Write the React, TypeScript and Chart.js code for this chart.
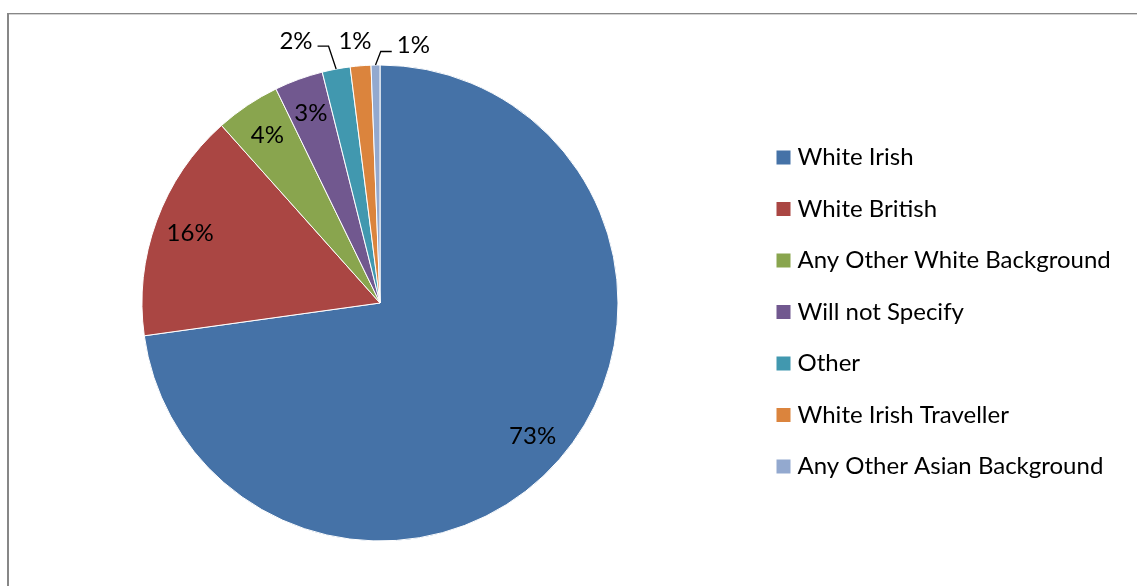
import React, { useEffect, useRef } from "react";
import { Chart, registerables } from "chart.js";

Chart.register(...registerables);

const categories = [
  "White Irish",
  "White British",
  "Any Other White Background",
  "Will not Specify",
  "Other",
  "White Irish Traveller",
  "Any Other Asian Background",
];
const values = [72.8, 15.6, 4.4, 3.3, 1.9, 1.4, 0.6];
const colors = ["#4572A7", "#AA4643", "#89A54E", "#71588F", "#4198AF", "#DB843D", "#93A9CF"];

const total = values.reduce((a, b) => a + b, 0);
const percentLabels = values.map((v) => Math.round((v / total) * 100) + "%");

const FONT = "24px Lato, 'Open Sans', sans-serif";

// label layout (not data): outside labels relative to pie center in radius units
const outsideLayout: Record<number, { ox: number; oy: number; leader: "right" | "left" | null }> = {
  4: { ox: -0.353, oy: -1.1, leader: "right" },
  5: { ox: -0.105, oy: -1.1, leader: null },
  6: { ox: 0.14, oy: -1.082, leader: "left" },
};

const framePlugin = {
  id: "frame",
  beforeDraw(chart: any) {
    const ctx = chart.ctx;
    ctx.save();
    ctx.fillStyle = "#ffffff";
    ctx.fillRect(0, 0, chart.width, chart.height);
    ctx.fillStyle = "#878787";
    ctx.fillRect(7, 13, 2, chart.height);
    ctx.fillRect(7, 13, chart.width, 1);
    ctx.fillStyle = "#d4d4d4";
    ctx.fillRect(9, 14, chart.width, 1);
    ctx.restore();
  },
};

const labelPlugin = {
  id: "pieLabels",
  afterDatasetsDraw(chart: any) {
    const ctx = chart.ctx;
    const meta = chart.getDatasetMeta(0);
    ctx.save();
    ctx.font = FONT;
    ctx.fillStyle = "#000000";
    ctx.textAlign = "center";
    ctx.textBaseline = "middle";
    meta.data.forEach((arc: any, i: number) => {
      const { x, y, startAngle, endAngle, outerRadius } = arc.getProps(
        ["x", "y", "startAngle", "endAngle", "outerRadius"],
        true
      );
      const mid = (startAngle + endAngle) / 2;
      const text = percentLabels[i];
      const lay = outsideLayout[i];
      if (!lay) {
        const r = outerRadius * 0.85;
        ctx.fillText(text, x + Math.cos(mid) * r, y + Math.sin(mid) * r);
        return;
      }
      const lx = x + lay.ox * outerRadius;
      const ly = y + lay.oy * outerRadius;
      ctx.fillText(text, lx, ly);
      if (lay.leader) {
        const w = ctx.measureText(text).width;
        const ax = x + Math.cos(mid) * outerRadius;
        const ay = y + Math.sin(mid) * outerRadius;
        ctx.beginPath();
        ctx.strokeStyle = "#000000";
        ctx.lineWidth = 1.3;
        if (lay.leader === "right") {
          const sx = lx + w / 2 + 5;
          const yy = ly + 5;
          ctx.moveTo(sx, yy);
          ctx.lineTo(sx + 11, yy);
          ctx.lineTo(ax, ay);
        } else {
          const sx = lx - w / 2 - 5;
          const yy = ly + 6;
          ctx.moveTo(sx, yy);
          ctx.lineTo(sx - 11, yy);
          ctx.lineTo(ax, ay);
        }
        ctx.stroke();
      }
    });
    ctx.restore();
  },
};

const legendPlugin = {
  id: "sideLegend",
  afterDraw(chart: any) {
    const ctx = chart.ctx;
    ctx.save();
    ctx.font = FONT;
    ctx.textAlign = "left";
    ctx.textBaseline = "alphabetic";
    categories.forEach((c, i) => {
      const base = 165 + i * 51.5;
      ctx.fillStyle = colors[i];
      ctx.fillRect(776.5, base - 14.5, 14, 14);
      ctx.fillStyle = "#000000";
      ctx.fillText(c, 797.5, base);
    });
    ctx.restore();
  },
};

export default function App() {
  const ref = useRef<HTMLCanvasElement>(null);
  useEffect(() => {
    const canvas = ref.current!;
    const chart = new Chart(canvas, {
      type: "pie",
      data: {
        labels: categories,
        datasets: [
          {
            data: values,
            backgroundColor: colors,
            borderColor: "#ffffff",
            borderWidth: 1,
          },
        ],
      },
      options: {
        responsive: false,
        animation: false,
        devicePixelRatio: 1,
        layout: { padding: { left: 141.5, top: 64.5, right: 518.5, bottom: 44.5 } },
        plugins: { legend: { display: false }, tooltip: { enabled: false } },
      },
      plugins: [framePlugin, labelPlugin, legendPlugin],
    } as any);
    return () => chart.destroy();
  }, []);
  return (
    <div style={{ position: "absolute", left: 0, top: 0, width: 1137, height: 586, background: "#fff" }}>
      <canvas ref={ref} width={1137} height={586} style={{ display: "block" }} />
    </div>
  );
}
